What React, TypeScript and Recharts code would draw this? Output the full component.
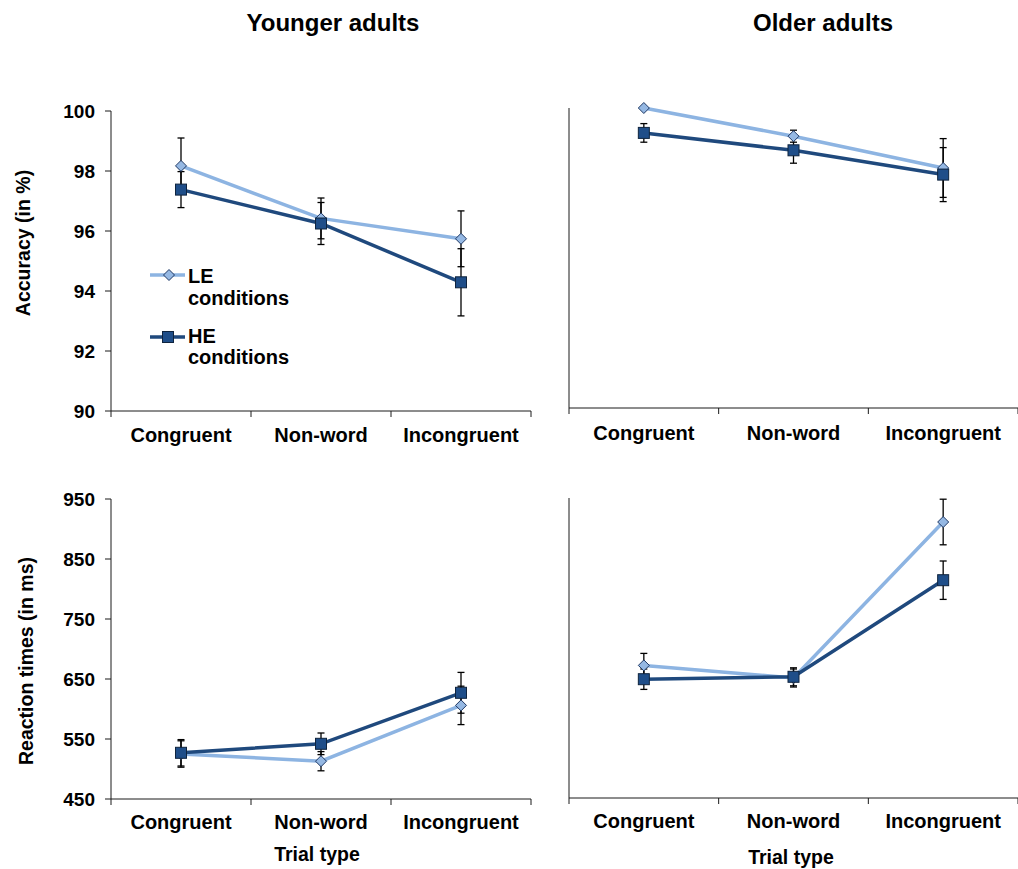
import React from 'react';
import { LineChart, Line, XAxis, YAxis, ErrorBar, Legend } from 'recharts';

const FONT = '"Liberation Sans", Arial, Helvetica, sans-serif';
const AXIS = '#1a1a1a';
const LE_LINE = '#8DB4E2';
const LE_FILL = '#95B8E3';
const LE_STROKE = '#1F3864';
const HE_LINE = '#1F497D';
const HE_FILL = '#1F4E89';
const HE_STROKE = '#0F243E';

// Categories and tick definitions
const categories = ['Congruent', 'Non-word', 'Incongruent'];
const categoryPositions = [0.5, 1.5, 2.5];
const xTicks = [0, 0.5, 1, 1.5, 2, 2.5, 3];
const accuracyTicks = [90, 92, 94, 96, 98, 100];
const rtTicks = [450, 550, 650, 750, 850, 950];

// Younger adults – accuracy (%)
const youngAccLE = [98.17, 96.42, 95.74];
const youngAccLEErr = [0.93, 0.68, 0.93];
const youngAccHE = [97.38, 96.25, 94.29];
const youngAccHEErr = [0.6, 0.7, 1.12];

// Older adults – accuracy (%)
const oldAccLE = [100.0, 99.06, 98.0];
const oldAccLEErr = [0, 0.2, 0.98];
const oldAccHE = [99.17, 98.59, 97.78];
const oldAccHEErr = [0.31, 0.43, 0.9];

// Younger adults – reaction times (ms)
const youngRtLE = [525, 513, 606];
const youngRtLEErr = [22, 16, 32];
const youngRtHE = [527, 542, 627];
const youngRtHEErr = [22, 18, 34];

// Older adults – reaction times (ms)
const oldRtLE = [671, 650, 910];
const oldRtLEErr = [20, 15, 38];
const oldRtHE = [648, 652, 813];
const oldRtHEErr = [17, 15, 32];

const build = (le: number[], leErr: number[], he: number[], heErr: number[]) =>
  categories.map((cat, i) => ({
    cat,
    pos: categoryPositions[i],
    le: le[i],
    leErr: leErr[i],
    he: he[i],
    heErr: heErr[i],
  }));

const youngAcc = build(youngAccLE, youngAccLEErr, youngAccHE, youngAccHEErr);
const oldAcc = build(oldAccLE, oldAccLEErr, oldAccHE, oldAccHEErr);
const youngRt = build(youngRtLE, youngRtLEErr, youngRtHE, youngRtHEErr);
const oldRt = build(oldRtLE, oldRtLEErr, oldRtHE, oldRtHEErr);

const XTick = (props: any) => {
  const { x, y, payload, labelDy } = props;
  const v = payload.value;
  if (Number.isInteger(v)) {
    return <line x1={x} x2={x} y1={y} y2={y + 6} stroke={AXIS} strokeWidth={1} />;
  }
  return (
    <text
      x={x}
      y={y + (labelDy ?? 30.5)}
      textAnchor="middle"
      fontFamily={FONT}
      fontWeight="bold"
      fontSize={20}
      fill="#000"
    >
      {categories[Math.floor(v)]}
    </text>
  );
};

const Diamond = (p: any) => {
  const { cx, cy, index } = p;
  if (cx == null || cy == null) return <g key={`d${index}`} />;
  const r = 5.5;
  return (
    <path
      key={`d${index}`}
      d={`M${cx},${cy - r} L${cx + r},${cy} L${cx},${cy + r} L${cx - r},${cy} Z`}
      fill={LE_FILL}
      stroke={LE_STROKE}
      strokeWidth={1}
    />
  );
};

const Square = (p: any) => {
  const { cx, cy, index } = p;
  if (cx == null || cy == null) return <g key={`s${index}`} />;
  const r = 5.5;
  return (
    <rect
      key={`s${index}`}
      x={cx - r}
      y={cy - r}
      width={2 * r}
      height={2 * r}
      fill={HE_FILL}
      stroke={HE_STROKE}
      strokeWidth={1}
    />
  );
};

const LegendContent = () => (
  <svg width={180} height={120} style={{ overflow: 'visible' }}>
    <line x1={5} x2={40} y1={20} y2={20} stroke={LE_LINE} strokeWidth={3.5} />
    <path d="M24,14.5 L29.5,20 L24,25.5 L18.5,20 Z" fill={LE_FILL} stroke={LE_STROKE} strokeWidth={1} />
    <text x={43} y={27.5} fontFamily={FONT} fontWeight="bold" fontSize={20} fill="#000">LE</text>
    <text x={43} y={50} fontFamily={FONT} fontWeight="bold" fontSize={20} fill="#000">conditions</text>
    <line x1={5} x2={40} y1={82} y2={82} stroke={HE_LINE} strokeWidth={3.5} />
    <rect x={17.5} y={76.5} width={11} height={11} fill={HE_FILL} stroke={HE_STROKE} strokeWidth={1} />
    <text x={43} y={87.5} fontFamily={FONT} fontWeight="bold" fontSize={20} fill="#000">HE</text>
    <text x={43} y={109} fontFamily={FONT} fontWeight="bold" fontSize={20} fill="#000">conditions</text>
  </svg>
);

type PanelProps = {
  left: number;
  top: number;
  width: number;
  height: number;
  margin: { top: number; right: number; bottom: number; left: number };
  yWidth: number;
  xHeight: number;
  domain: [number, number];
  yTicks: number[];
  showYLabels: boolean;
  data: any[];
  legend?: boolean;
  labelDy?: number;
};

const Panel = (p: PanelProps) => (
  <div style={{ position: 'absolute', left: p.left, top: p.top }}>
    <LineChart width={p.width} height={p.height} data={p.data} margin={p.margin}>
      <XAxis
        dataKey="pos"
        type="number"
        domain={[0, 3]}
        ticks={xTicks}
        interval={0}
        tickSize={0}
        tickMargin={0}
        tickLine={false}
        tick={<XTick labelDy={p.labelDy} />}
        height={p.xHeight}
        axisLine={{ stroke: AXIS, strokeWidth: 1 }}
      />
      <YAxis
        type="number"
        domain={p.domain}
        ticks={p.yTicks}
        interval={0}
        tickSize={6}
        tickMargin={10}
        width={p.yWidth}
        axisLine={{ stroke: AXIS, strokeWidth: 1 }}
        tickLine={{ stroke: AXIS, strokeWidth: 1 }}
        tick={
          p.showYLabels
            ? { fontSize: 19, fontWeight: 'bold', fill: '#000', fontFamily: FONT }
            : false
        }
      />
      <Line
        dataKey="le"
        stroke={LE_LINE}
        strokeWidth={3.5}
        dot={Diamond}
        activeDot={false}
        isAnimationActive={false}
      >
        <ErrorBar dataKey="leErr" direction="y" width={3.5} stroke="#000" strokeWidth={1.3} />
      </Line>
      <Line
        dataKey="he"
        stroke={HE_LINE}
        strokeWidth={3.5}
        dot={Square}
        activeDot={false}
        isAnimationActive={false}
      >
        <ErrorBar dataKey="heErr" direction="y" width={3.5} stroke="#000" strokeWidth={1.3} />
      </Line>
      {p.legend && (
        <Legend
          layout="vertical"
          align="center"
          verticalAlign="middle"
          content={() => <LegendContent />}
          wrapperStyle={{ left: 145, top: 255, width: 180, height: 120 }}
        />
      )}
    </LineChart>
  </div>
);

const textStyle = { fontFamily: FONT, fontWeight: 'bold' as const, fill: '#000' };

export default function App() {
  return (
    <div style={{ position: 'absolute', left: 0, top: 0, width: 1018, height: 869, background: '#fff' }}>
      <Panel
        left={0}
        top={0}
        width={540}
        height={450}
        margin={{ top: 111, right: 9, bottom: 0, left: 0 }}
        yWidth={111}
        xHeight={39}
        domain={[90, 100]}
        yTicks={accuracyTicks}
        showYLabels
        data={youngAcc}
        legend
        labelDy={30.5}
      />
      <Panel
        left={540}
        top={0}
        width={478}
        height={450}
        margin={{ top: 108, right: 0, bottom: 0, left: 0 }}
        yWidth={29}
        xHeight={42}
        domain={[90, 100]}
        yTicks={accuracyTicks}
        showYLabels={false}
        data={oldAcc}
        labelDy={31.5}
      />
      <Panel
        left={0}
        top={450}
        width={540}
        height={419}
        margin={{ top: 49, right: 9, bottom: 0, left: 0 }}
        yWidth={111}
        xHeight={70}
        domain={[450, 950]}
        yTicks={rtTicks}
        showYLabels
        data={youngRt}
        labelDy={29.5}
      />
      <Panel
        left={540}
        top={450}
        width={478}
        height={419}
        margin={{ top: 48, right: 0, bottom: 0, left: 0 }}
        yWidth={29}
        xHeight={71}
        domain={[450, 950]}
        yTicks={rtTicks}
        showYLabels={false}
        data={oldRt}
        labelDy={30}
      />
      <svg
        width={1018}
        height={869}
        style={{ position: 'absolute', left: 0, top: 0, pointerEvents: 'none' }}
      >
        <text x={333} y={31} textAnchor="middle" fontSize={24} {...textStyle}>Younger adults</text>
        <text x={823} y={31} textAnchor="middle" fontSize={24} {...textStyle}>Older adults</text>
        <text transform="translate(30,243) rotate(-90)" textAnchor="middle" fontSize={19.5} {...textStyle}>
          Accuracy (in %)
        </text>
        <text transform="translate(32.5,661) rotate(-90)" textAnchor="middle" fontSize={19.5} {...textStyle}>
          Reaction times (in ms)
        </text>
        <text x={317} y={861} textAnchor="middle" fontSize={19.5} {...textStyle}>Trial type</text>
        <text x={791} y={864} textAnchor="middle" fontSize={19.5} {...textStyle}>Trial type</text>
      </svg>
    </div>
  );
}
